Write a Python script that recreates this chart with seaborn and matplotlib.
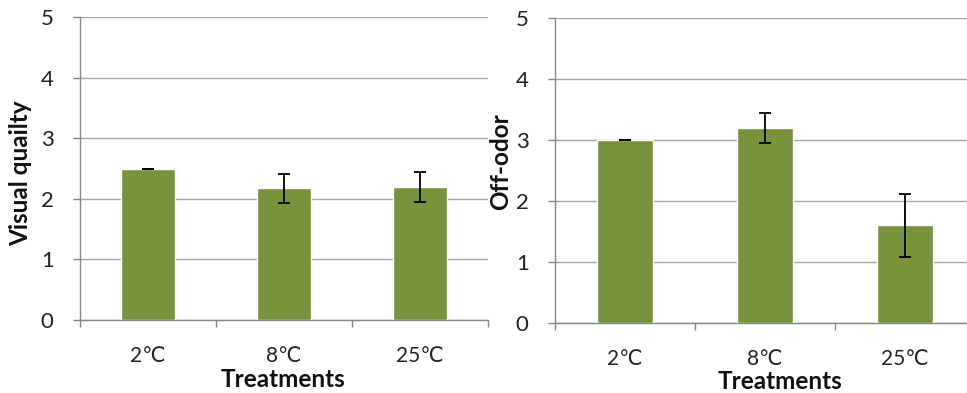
import matplotlib
matplotlib.use("Agg")
import matplotlib.pyplot as plt
import seaborn as sns
import pandas as pd
from matplotlib.ticker import FixedLocator, NullFormatter

treatments = ["2℃", "8℃", "25℃"]
visual_quality = [2.5, 2.17, 2.2]
visual_quality_err = [0.0, 0.24, 0.25]
off_odor = [3.0, 3.2, 1.6]
off_odor_err = [0.0, 0.25, 0.51]

sns.set_theme(style="white")
plt.rcParams["font.family"] = ["Lato", "DejaVu Sans"]

BAR = "#77933C"
GRID = "#a6a6a6"
SPINE = "#868686"

fig = plt.figure(figsize=(9.67, 3.93), dpi=100)
W, H = 967, 393


def px_axes(x0, x1, ytop, ybot):
    return fig.add_axes([x0 / W, 1 - ybot / H, (x1 - x0) / W, (ybot - ytop) / H])


# (axes, values, errors, y label, ylabel coords, xlabel coords)
panels = [
    (px_axes(80, 488, 17, 320), visual_quality, visual_quality_err,
     "Visual quailty", (-0.118, 0.485), (0.497, -0.158)),
    (px_axes(555, 975, 18, 323), off_odor, off_odor_err,
     "Off-odor", (-0.102, 0.53), (0.536, -0.155)),
]

for ax, vals, errs, ylabel, ylc, xlc in panels:
    df = pd.DataFrame({"Treatment": treatments, "Score": vals})
    sns.barplot(data=df, x="Treatment", y="Score", color=BAR, saturation=1,
                width=0.4, ax=ax, zorder=3, errorbar=None)
    ax.errorbar(range(len(vals)), vals, yerr=errs, fmt="none", ecolor="black",
                elinewidth=1.3, capsize=4, capthick=1.3, zorder=4)
    ax.set_xlim(-0.5, len(vals) - 0.5)
    ax.set_ylim(0, 5)
    ax.set_yticks(range(6))
    ax.yaxis.grid(True, color=GRID, linewidth=1.0, zorder=0)
    ax.xaxis.grid(False)
    ax.set_axisbelow(True)
    for s in ("top", "right"):
        ax.spines[s].set_visible(False)
    for s in ("left", "bottom"):
        ax.spines[s].set_color(SPINE)
        ax.spines[s].set_linewidth(1.0)
    ax.tick_params(axis="y", which="major", left=True, length=5, width=1,
                   color=SPINE, pad=14, labelsize=16, labelcolor="#222222")
    ax.tick_params(axis="x", which="major", bottom=False, length=0, pad=19,
                   labelsize=15, labelcolor="#222222")
    ax.xaxis.set_minor_locator(FixedLocator([i - 0.5 for i in range(len(vals) + 1)]))
    ax.xaxis.set_minor_formatter(NullFormatter())
    ax.tick_params(axis="x", which="minor", bottom=True, length=5, width=1,
                   color=SPINE)
    ax.set_xlabel("Treatments", fontsize=17.5, fontweight="bold",
                  color="#111111")
    ax.set_ylabel(ylabel, fontsize=17.5, fontweight="bold", color="#111111")
    ax.yaxis.set_label_coords(*ylc)
    ax.xaxis.set_label_coords(*xlc)

fig.savefig("out.png", dpi=100, facecolor="white")
